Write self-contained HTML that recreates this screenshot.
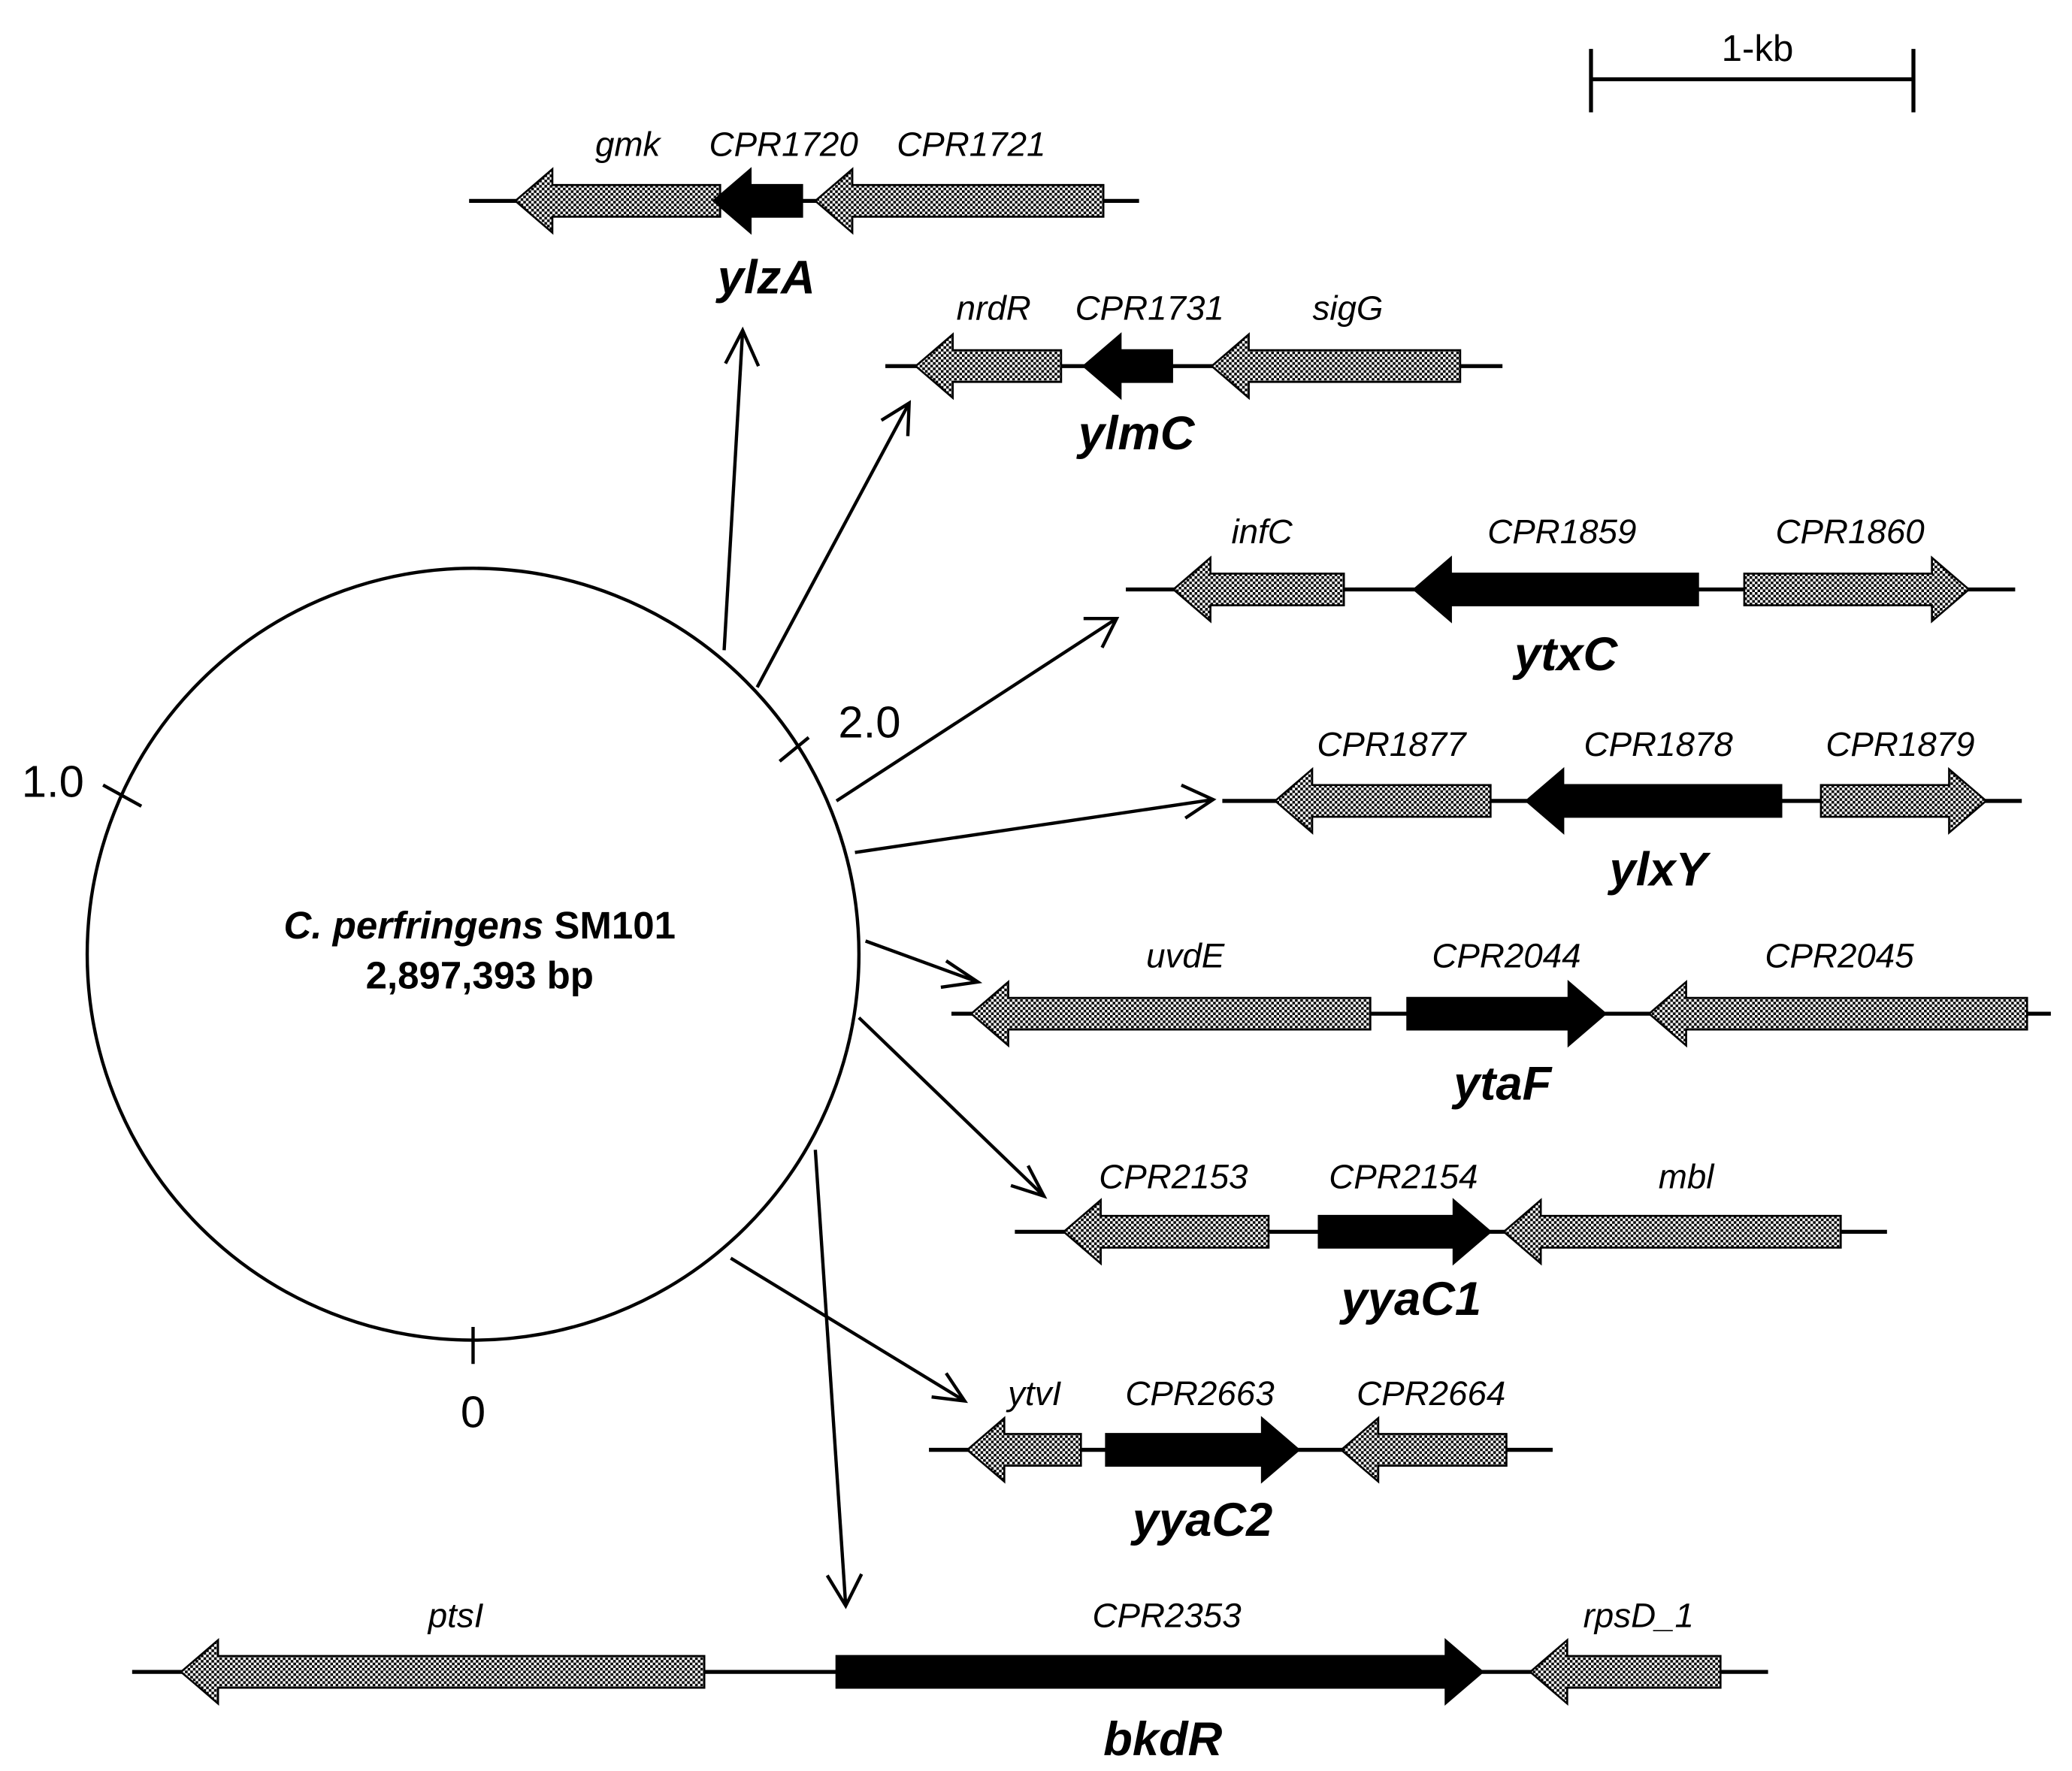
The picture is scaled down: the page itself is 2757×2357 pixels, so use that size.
<!DOCTYPE html>
<html><head><style>html,body{margin:0;padding:0;background:#fff}svg{display:block}</style></head><body>
<svg width="2757" height="2357" viewBox="0 0 1568 1340" preserveAspectRatio="none" xmlns="http://www.w3.org/2000/svg" font-family="Liberation Sans, Arial, sans-serif">
<defs>
<pattern id="ck" width="4" height="4" patternUnits="userSpaceOnUse"><rect width="4" height="4" fill="#fff"/><rect width="2" height="2" fill="#000"/><rect x="2" y="2" width="2" height="2" fill="#000"/></pattern>
</defs>
<g stroke="#000" stroke-width="3" fill="none">
<line x1="355" y1="152" x2="862" y2="152"/>
<line x1="670" y1="277" x2="1137" y2="277"/>
<line x1="852" y1="446" x2="1525" y2="446"/>
<line x1="925" y1="606" x2="1530" y2="606"/>
<line x1="720" y1="767" x2="1552" y2="767"/>
<line x1="768" y1="932" x2="1428" y2="932"/>
<line x1="703" y1="1097" x2="1175" y2="1097"/>
<line x1="100" y1="1265" x2="1338" y2="1265"/>
</g>
<g id="genes" stroke="#000" stroke-width="1.5">
<!-- left-pointing: tip,right ; right pointing: left,tip -->
<polygon fill="url(#ck)" points="390,152 418,128 418,140 545,140 545,164 418,164 418,176"/>
<polygon fill="#000" points="540,152 568,128 568,140 607,140 607,164 568,164 568,176"/>
<polygon fill="url(#ck)" points="617,152 645,128 645,140 835,140 835,164 645,164 645,176"/>

<polygon fill="url(#ck)" points="693,277 721,253 721,265 803,265 803,289 721,289 721,301"/>
<polygon fill="#000" points="820,277 848,253 848,265 887,265 887,289 848,289 848,301"/>
<polygon fill="url(#ck)" points="917,277 945,253 945,265 1105,265 1105,289 945,289 945,301"/>

<polygon fill="url(#ck)" points="888,446 916,422 916,434 1017,434 1017,458 916,458 916,470"/>
<polygon fill="#000" points="1070,446 1098,422 1098,434 1285,434 1285,458 1098,458 1098,470"/>
<polygon fill="url(#ck)" points="1490,446 1462,422 1462,434 1320,434 1320,458 1462,458 1462,470"/>

<polygon fill="url(#ck)" points="965,606 993,582 993,594 1128,594 1128,618 993,618 993,630"/>
<polygon fill="#000" points="1155,606 1183,582 1183,594 1348,594 1348,618 1183,618 1183,630"/>
<polygon fill="url(#ck)" points="1503,606 1475,582 1475,594 1378,594 1378,618 1475,618 1475,630"/>

<polygon fill="url(#ck)" points="735,767 763,743 763,755 1037,755 1037,779 763,779 763,791"/>
<polygon fill="#000" points="1215,767 1187,743 1187,755 1065,755 1065,779 1187,779 1187,791"/>
<polygon fill="url(#ck)" points="1248,767 1276,743 1276,755 1534,755 1534,779 1276,779 1276,791"/>

<polygon fill="url(#ck)" points="805,932 833,908 833,920 960,920 960,944 833,944 833,956"/>
<polygon fill="#000" points="1128,932 1100,908 1100,920 998,920 998,944 1100,944 1100,956"/>
<polygon fill="url(#ck)" points="1138,932 1166,908 1166,920 1393,920 1393,944 1166,944 1166,956"/>

<polygon fill="url(#ck)" points="732,1097 760,1073 760,1085 818,1085 818,1109 760,1109 760,1121"/>
<polygon fill="#000" points="983,1097 955,1073 955,1085 837,1085 837,1109 955,1109 955,1121"/>
<polygon fill="url(#ck)" points="1015,1097 1043,1073 1043,1085 1140,1085 1140,1109 1043,1109 1043,1121"/>

<polygon fill="url(#ck)" points="137,1265 165,1241 165,1253 533,1253 533,1277 165,1277 165,1289"/>
<polygon fill="#000" points="1122,1265 1094,1241 1094,1253 633,1253 633,1277 1094,1277 1094,1289"/>
<polygon fill="url(#ck)" points="1158,1265 1186,1241 1186,1253 1302,1253 1302,1277 1186,1277 1186,1289"/>
</g>
<g font-style="italic" font-size="26" text-anchor="middle" fill="#000">
<text x="475" y="118">gmk</text><text x="593" y="118">CPR1720</text><text x="735" y="118">CPR1721</text>
<text x="752" y="242">nrdR</text><text x="870" y="242">CPR1731</text><text x="1020" y="242">sigG</text>
<text x="955" y="411">infC</text><text x="1182" y="411">CPR1859</text><text x="1400" y="411">CPR1860</text>
<text x="1053" y="572">CPR1877</text><text x="1255" y="572">CPR1878</text><text x="1438" y="572">CPR1879</text>
<text x="897" y="732">uvdE</text><text x="1140" y="732">CPR2044</text><text x="1392" y="732">CPR2045</text>
<text x="888" y="899">CPR2153</text><text x="1062" y="899">CPR2154</text><text x="1276" y="899">mbl</text>
<text x="783" y="1063">ytvI</text><text x="908" y="1063">CPR2663</text><text x="1083" y="1063">CPR2664</text>
<text x="345" y="1231">ptsI</text><text x="883" y="1231">CPR2353</text><text x="1240" y="1231">rpsD_1</text>
</g>
<g font-style="italic" font-weight="bold" font-size="36" text-anchor="middle" fill="#000">
<text x="580" y="222">ylzA</text><text x="860" y="340">ylmC</text><text x="1185" y="507">ytxC</text>
<text x="1255" y="670">ylxY</text><text x="1137" y="832">ytaF</text><text x="1068" y="995">yyaC1</text>
<text x="910" y="1162">yyaC2</text><text x="880" y="1328">bkdR</text>
</g>
<circle cx="358" cy="722" r="292" fill="none" stroke="#000" stroke-width="2.5"/>
<g stroke="#000" stroke-width="2.5">
<line x1="358" y1="1004" x2="358" y2="1032"/>
<line x1="78" y1="594" x2="107" y2="610"/>
<line x1="590" y1="576" x2="612" y2="558"/>
</g>
<g font-size="34" fill="#000" text-anchor="middle">
<text x="358" y="1080">0</text><text x="40" y="603">1.0</text><text x="658" y="558">2.0</text>
</g>
<g font-size="29" font-weight="bold" text-anchor="middle" fill="#000">
<text x="363" y="710"><tspan font-style="italic">C. perfringens</tspan> SM101</text>
<text x="363" y="748">2,897,393 bp</text>
</g>
<g stroke="#000" stroke-width="2.5" fill="none" id="arr">
<line x1="548" y1="492" x2="562" y2="250"/><polyline points="549,275 562,250 574,277"/>
<line x1="573" y1="520" x2="688" y2="305"/><polyline points="667,318 688,305 687,330"/>
<line x1="633" y1="606" x2="845" y2="468"/><polyline points="820,468 845,468 834,490"/>
<line x1="647" y1="645" x2="918" y2="605"/><polyline points="894,594 918,605 897,619"/>
<line x1="655" y1="712" x2="740" y2="743"/><polyline points="716,727 740,743 712,747"/>
<line x1="650" y1="770" x2="790" y2="905"/><polyline points="778,882 790,905 765,897"/>
<line x1="553" y1="952" x2="730" y2="1060"/><polyline points="716,1039 730,1060 705,1057"/>
<line x1="617" y1="870" x2="640" y2="1215"/><polyline points="626,1192 640,1215 652,1191"/>
</g>
<g stroke="#000" stroke-width="3">
<line x1="1204" y1="60" x2="1448" y2="60"/>
<line x1="1204" y1="37" x2="1204" y2="85"/>
<line x1="1448" y1="37" x2="1448" y2="85"/>
</g>
<text x="1330" y="46" font-size="28" text-anchor="middle" fill="#000">1-kb</text>
</svg>
</body></html>
